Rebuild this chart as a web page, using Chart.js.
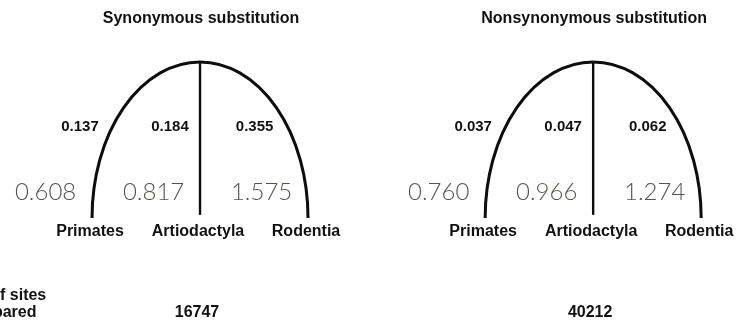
<!DOCTYPE html>
<html>
<head>
<meta charset="utf-8">
<script src="https://cdn.jsdelivr.net/npm/chart.js@4/dist/chart.umd.min.js"></script>
<style>
  html, body { margin: 0; padding: 0; background: #fff; }
  #wrap { width: 738px; height: 322px; position: relative; }
</style>
</head>
<body>
<div id="wrap"><canvas id="tree"></canvas></div>
<script>
// Taxa shown at the tips of both trees
const taxa = ['Primates', 'Artiodactyla', 'Rodentia'];
const panelTitles = ['Synonymous substitution', 'Nonsynonymous substitution'];
// Branch lengths (substitutions per site)
const branchSyn = [0.137, 0.184, 0.355];
const branchNonsyn = [0.037, 0.047, 0.062];
// Relative rates for each lineage
const rateSyn = [0.608, 0.817, 1.575];
const rateNonsyn = [0.760, 0.966, 1.274];
// Number of sites compared per panel
const sitesLabel = ['No. of sites', 'compared'];
const sitesCompared = [16747, 40212];

const branchSets = [branchSyn, branchNonsyn];
const rateSets = [rateSyn, rateNonsyn];

// Tree layout: tips at height 0, root at height 1; tips one unit apart
const panelStep = 3.64;
const tipX = (p, i) => p * panelStep + i;
const rootX = p => tipX(p, 1);

// Middle (root-to-Artiodactyla) branches as line datasets
const datasets = [0, 1].map(p => ({
  type: 'line',
  data: [{ x: rootX(p), y: 0.02 }, { x: rootX(p), y: 1 }],
  borderColor: '#0d0d0d',
  borderWidth: 2.4,
  pointRadius: 0,
  fill: false
}));

const boldFont = size => `bold ${size}px "Liberation Sans", Arial, sans-serif`;

const treePlugin = {
  id: 'treePlugin',
  afterDatasetsDraw(chart) {
    const { ctx, scales: { x, y } } = chart;
    const X = v => x.getPixelForValue(v);
    const Y = v => y.getPixelForValue(v);
    ctx.save();

    for (let p = 0; p < 2; p++) {
      const cx = X(rootX(p));
      const top = Y(1);
      const base = Y(0);
      const ry = base - top;
      const rxL = cx - X(tipX(p, 0));
      const rxR = X(tipX(p, 2)) - cx;

      // Outer branches as quarter ellipses from root down to the tips
      ctx.strokeStyle = '#0d0d0d';
      ctx.lineWidth = 3;
      ctx.lineCap = 'butt';
      ctx.beginPath();
      ctx.ellipse(cx, base, rxL, ry, 0, Math.PI, 1.5 * Math.PI);
      ctx.stroke();
      ctx.beginPath();
      ctx.ellipse(cx, base, rxR, ry, 0, 1.5 * Math.PI, 2 * Math.PI);
      ctx.stroke();

      ctx.textAlign = 'center';
      ctx.textBaseline = 'middle';

      // Panel title
      ctx.fillStyle = '#111';
      ctx.font = boldFont(16);
      ctx.fillText(panelTitles[p], cx + 1, Y(1.276));

      // Branch lengths
      const branchOffsets = [-0.111, -0.278, -0.495];
      ctx.font = boldFont(15);
      branchSets[p].forEach((v, i) => {
        ctx.fillText(v.toFixed(3), X(tipX(p, i) + branchOffsets[i]), Y(0.583));
      });

      // Relative rates
      ctx.fillStyle = '#55554a';
      ctx.font = '300 24px Lato, "Open Sans", sans-serif';
      rateSets[p].forEach((v, i) => {
        ctx.fillText(v.toFixed(3), X(tipX(p, i) - 0.43), Y(0.167));
      });

      // Tip labels
      ctx.fillStyle = '#111';
      ctx.font = boldFont(16);
      taxa.forEach((t, i) => {
        ctx.fillText(t, X(tipX(p, i)) - 2, Y(-0.09));
      });

      // Sites compared
      ctx.font = boldFont(16);
      ctx.fillText(String(sitesCompared[p]), cx - 3, Y(-0.609));
    }

    // Row heading for the sites line
    ctx.textAlign = 'left';
    ctx.font = boldFont(16);
    ctx.fillText(sitesLabel[0], X(-1.222), Y(-0.5));
    ctx.fillText(sitesLabel[1], X(-1.222), Y(-0.609));

    ctx.restore();
  }
};

new Chart(document.getElementById('tree'), {
  type: 'scatter',
  data: { datasets },
  options: {
    responsive: true,
    maintainAspectRatio: false,
    animation: false,
    layout: { padding: 0 },
    plugins: { legend: { display: false }, tooltip: { enabled: false }, title: { display: false } },
    scales: {
      x: { type: 'linear', display: false, min: -0.852, max: 5.981 },
      y: { type: 'linear', display: false, min: -0.667, max: 1.397 }
    }
  },
  plugins: [treePlugin]
});
</script>
</body>
</html>
